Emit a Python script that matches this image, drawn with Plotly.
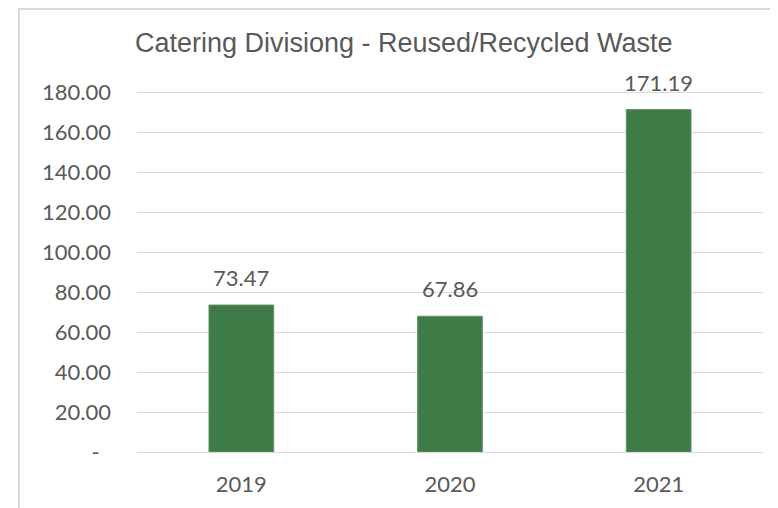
import plotly.graph_objects as go

# data
years = ["2019", "2020", "2021"]
waste = [73.47, 67.86, 171.19]
y_ticks = [0, 20, 40, 60, 80, 100, 120, 140, 160, 180]
y_tick_labels = ["-\u00a0\u00a0"] + [f"{v:.2f}" for v in y_ticks[1:]]

text_grey = "#595959"
bar_green = "#3F7B47"

fig = go.Figure()

fig.add_trace(go.Bar(
    x=years,
    y=waste,
    marker=dict(color=bar_green, line=dict(color="#5E9163", width=1)),
    width=0.31,
    hoverinfo="skip",
))

# data labels above each bar (category index, so numeric-looking years aren't read as positions)
for i, val in enumerate(waste):
    fig.add_annotation(
        x=i, y=val, text=f"{val:.2f}",
        showarrow=False, yanchor="bottom", yshift=12,
        font=dict(family="Lato", size=22, color=text_grey),
    )

# outer chart frame (right and bottom edges fall outside the visible area)
fig.add_shape(type="rect", xref="paper", yref="paper",
              x0=-0.1885, x1=1.05, y0=-0.3, y1=1.2238,
              line=dict(color="#D9D9D9", width=2), layer="below")

fig.update_layout(
    width=770, height=500,
    margin=dict(l=129, r=15, t=82, b=56),
    paper_bgcolor="white", plot_bgcolor="white",
    showlegend=False,
    title=dict(
        text="Catering Divisiong - Reused/Recycled Waste",
        x=0.514, xanchor="center", y=0.93, yanchor="middle",
        font=dict(family="Liberation Sans", size=27, color=text_grey),
    ),
    xaxis=dict(
        type="category", range=[-0.5, len(years) - 0.5],
        showgrid=False, showline=False, ticks="",
        tickfont=dict(family="Lato", size=22, color=text_grey),
        ticklabelstandoff=17,
    ),
    yaxis=dict(
        range=[0, 181],
        tickvals=y_ticks, ticktext=y_tick_labels,
        showgrid=True, gridcolor="#D9D9D9", gridwidth=1,
        zeroline=True, zerolinecolor="#D9D9D9", zerolinewidth=1,
        showline=False, ticks="",
        tickfont=dict(family="Lato", size=22, color=text_grey),
        ticklabelstandoff=25,
    ),
)

fig.write_html("out.html")
